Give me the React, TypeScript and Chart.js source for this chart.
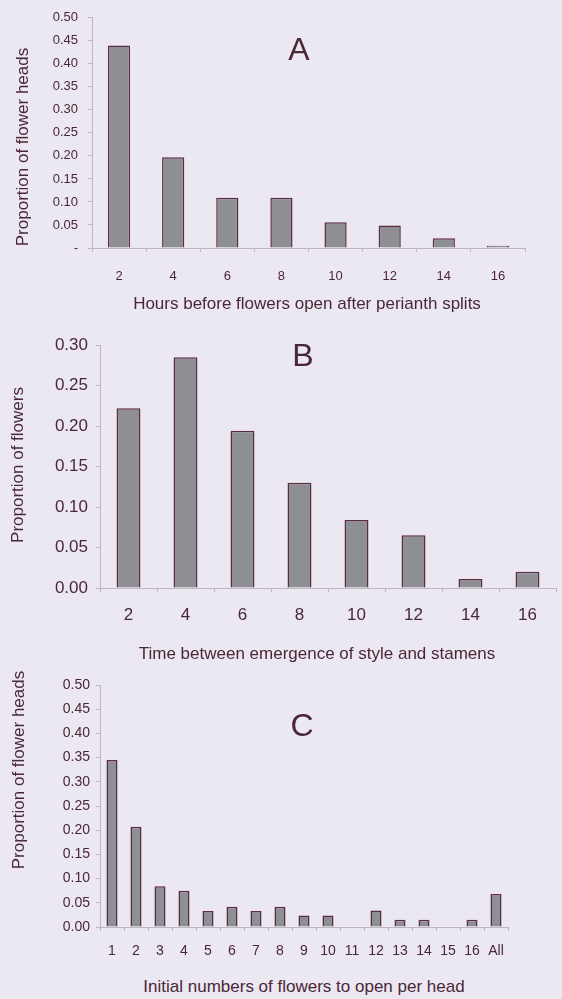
import React, { useEffect, useRef } from "react";
import { Chart, registerables } from "chart.js";

Chart.register(...registerables);

const BG = "rgb(236,232,241)";
const TEXT = "#4a2737";
const BAR_FILL = "#8d8f93";
const BAR_EDGE = "#5a2b42";
const AXIS = "#bdb6c2";

const hoursCategories = ["2", "4", "6", "8", "10", "12", "14", "16"];
const hoursValues = [0.44, 0.197, 0.109, 0.109, 0.056, 0.049, 0.021, 0.005];

const timeCategories = ["2", "4", "6", "8", "10", "12", "14", "16"];
const timeValues = [0.222, 0.285, 0.194, 0.13, 0.084, 0.065, 0.011, 0.02];

const initialCategories = ["1", "2", "3", "4", "5", "6", "7", "8", "9", "10", "11", "12", "13", "14", "15", "16", "All"];
const initialValues = [0.345, 0.207, 0.084, 0.075, 0.033, 0.042, 0.033, 0.042, 0.024, 0.024, 0, 0.034, 0.015, 0.015, 0, 0.015, 0.068];

type PanelProps = {
  top: number;
  height: number;
  labels: string[];
  values: number[];
  yMax: number;
  step: number;
  plot: { left: number; top: number; right: number; bottom: number };
  font: { family: string; size: number };
  yPad: number;
  xPad: number;
  barFrac: number;
  zeroLabel?: string;
};

function BarPanel(p: PanelProps) {
  const ref = useRef<HTMLCanvasElement | null>(null);
  useEffect(() => {
    if (!ref.current) return;
    const W = 562;
    const chart = new Chart(ref.current, {
      type: "bar",
      data: {
        labels: p.labels,
        datasets: [
          {
            data: p.values,
            backgroundColor: BAR_FILL,
            borderColor: BAR_EDGE,
            borderWidth: 1.5,
            categoryPercentage: 1,
            barPercentage: p.barFrac,
          },
        ],
      },
      options: {
        responsive: false,
        animation: false,
        devicePixelRatio: 1,
        layout: {
          padding: { top: p.plot.top, left: 0, right: W - p.plot.right, bottom: 0 },
        },
        plugins: { legend: { display: false }, tooltip: { enabled: false }, title: { display: false } },
        scales: {
          x: {
            grid: { display: true, drawOnChartArea: false, drawTicks: true, tickLength: 4, color: AXIS, offset: true },
            border: { display: true, color: AXIS, width: 1 },
            ticks: { color: TEXT, font: p.font, padding: p.xPad, maxRotation: 0, autoSkip: false },
            afterFit: (s: any) => {
              s.height = p.height - p.plot.bottom;
            },
          },
          y: {
            min: 0,
            max: p.yMax,
            grid: { display: true, drawOnChartArea: false, drawTicks: true, tickLength: 4, color: AXIS },
            border: { display: true, color: AXIS, width: 1 },
            ticks: {
              stepSize: p.step,
              color: TEXT,
              font: p.font,
              padding: p.yPad,
              callback: (v: any) => {
                const n = Number(v);
                if (Math.abs(n) < 1e-9 && p.zeroLabel !== undefined) return p.zeroLabel;
                return n.toFixed(2);
              },
            },
            afterFit: (s: any) => {
              s.width = p.plot.left;
            },
          },
        },
      },
    });
    return () => chart.destroy();
  }, []);
  return (
    <canvas
      ref={ref}
      width={562}
      height={p.height}
      style={{ position: "absolute", left: 0, top: p.top, width: 562, height: p.height }}
    />
  );
}

const SANS = "'Liberation Sans', Arial, sans-serif";
const NARROW = "'Liberation Sans Narrow', 'Arial Narrow', 'Liberation Sans', sans-serif";

function Label(props: { text: string; x: number; y: number; size: number; rotate?: boolean }) {
  return (
    <div
      style={{
        position: "absolute",
        left: props.x,
        top: props.y,
        transform: `translate(-50%, -50%)${props.rotate ? " rotate(-90deg)" : ""}`,
        whiteSpace: "nowrap",
        fontFamily: SANS,
        fontSize: props.size,
        lineHeight: 1,
        color: TEXT,
      }}
    >
      {props.text}
    </div>
  );
}

export default function App() {
  return (
    <div style={{ position: "absolute", left: 0, top: 0, width: 562, height: 999, background: BG, overflow: "hidden" }}>
      <BarPanel
        top={0}
        height={290}
        labels={hoursCategories}
        values={hoursValues}
        yMax={0.5}
        step={0.05}
        plot={{ left: 92, top: 15, right: 525, bottom: 248 }}
        font={{ family: NARROW, size: 13 }}
        yPad={10}
        xPad={17}
        barFrac={0.41}
        zeroLabel="-"
      />
      <BarPanel
        top={300}
        height={330}
        labels={timeCategories}
        values={timeValues}
        yMax={0.3}
        step={0.05}
        plot={{ left: 100, top: 45, right: 556, bottom: 288 }}
        font={{ family: SANS, size: 17 }}
        yPad={8}
        xPad={13}
        barFrac={0.42}
      />
      <BarPanel
        top={640}
        height={330}
        labels={initialCategories}
        values={initialValues}
        yMax={0.5}
        step={0.05}
        plot={{ left: 100, top: 45, right: 508, bottom: 287 }}
        font={{ family: NARROW, size: 14 }}
        yPad={6}
        xPad={12}
        barFrac={0.46}
      />
      <Label text="A" x={299} y={49} size={32} />
      <Label text="B" x={303} y={355} size={32} />
      <Label text="C" x={302} y={725} size={32} />
      <Label text="Proportion of flower heads" x={22} y={147} size={17} rotate />
      <Label text="Proportion of flowers" x={17} y={465} size={17} rotate />
      <Label text="Proportion of flower heads" x={18} y={770} size={17} rotate />
      <Label text="Hours before flowers open after perianth splits" x={307} y={303} size={17} />
      <Label text="Time between emergence of style and stamens" x={317} y={653} size={17} />
      <Label text="Initial numbers of flowers to open per head" x={304} y={986} size={17} />
    </div>
  );
}
